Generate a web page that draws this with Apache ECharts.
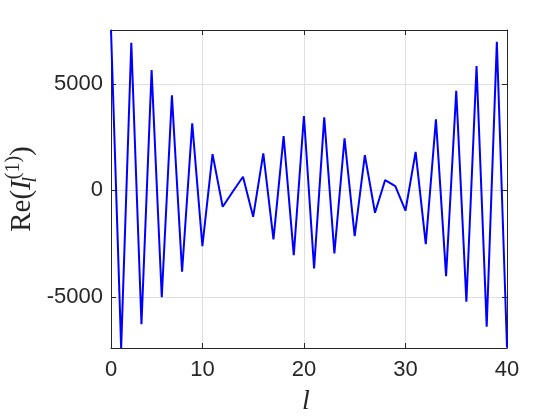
<!DOCTYPE html>
<html>
<head>
<meta charset="utf-8">
<script src="https://cdn.jsdelivr.net/npm/echarts@6/dist/echarts.min.js"></script>
<style>html,body{margin:0;padding:0;background:#fff;}#c{width:560px;height:420px;}</style>
</head>
<body>
<div id="c"></div>
<script>
// l index values (1..40 on the drawn axis)
const lValues = [1,2,3,4,5,6,7,8,9,10,11,12,13,14,15,16,17,18,19,20,21,22,23,24,25,26,27,28,29,30,31,32,33,34,35,36,37,38,39,40];
// Re(I_l^(1)) values
const reValues = [7530,-7400,6930,-6280,5650,-5020,4460,-3820,3145,-2615,1705,-770,-50,640,-1240,1735,-2300,2550,-3040,3490,-3660,3425,-2960,2440,-2145,1655,-1050,485,200,-955,1810,-2520,3335,-4025,4675,-5230,5835,-6405,6975,-7380];
const xTickValues = [1,10,20,30,40];
const xTickLabels = ['0','10','20','30','40'];
const yTickValues = [-5000,0,5000];
const yMin = -7400, yMax = 7530;

const chart = echarts.init(document.getElementById('c'), null, {renderer:'canvas'});
const dark = '#262626';
const gridCol = '#dfdfdf';
const tickFont = {fontFamily:'Liberation Sans, Arial, sans-serif', fontSize:22, color:dark};
const seriesData = lValues.map((l,i)=>[l, reValues[i]]);

function xAx(pos, main){
  return {
    type:'value', position:pos, min:1, max:40,
    axisLine:{show:true, onZero:false, lineStyle:{color:dark, width:1}},
    axisTick:{show:true, inside:true, length:5, customValues:xTickValues, lineStyle:{color:dark}},
    axisLabel: main ? Object.assign({show:true, margin:11, customValues:xTickValues,
      formatter:(v)=>{const k=xTickValues.indexOf(v); return k>=0?xTickLabels[k]:'';}}, tickFont) : {show:false},
    splitLine:{show:main, lineStyle:{color:gridCol, width:1}},
    name: main ? 'l' : '',
    nameLocation:'middle', nameGap:40, nameMoveOverlap:false,
    nameTextStyle:{fontFamily:'Liberation Serif, serif', fontStyle:'italic', fontSize:28, color:dark, padding:[0,6,0,0]}
  };
}
function yAx(pos, main){
  return {
    type:'value', position:pos, min:yMin, max:yMax,
    axisLine:{show:true, onZero:false, lineStyle:{color:dark, width:1}},
    axisTick:{show:true, inside:true, length:5, customValues:yTickValues, lineStyle:{color:dark}},
    axisLabel: main ? Object.assign({show:true, margin:8, customValues:yTickValues,
      formatter:(v)=>String(v)}, tickFont) : {show:false},
    splitLine:{show:main, lineStyle:{color:gridCol, width:1}},
    name: main ? '{r|Re(}{i|I}{sub|l}{sup|(1)}{r|)}' : '',
    nameLocation:'middle', nameGap:70, nameMoveOverlap:false,
    nameTextStyle:{
      color:dark,
      rich:{
        r:{fontFamily:'Liberation Serif, serif', fontSize:29, color:dark, lineHeight:37, verticalAlign:'middle'},
        i:{fontFamily:'Liberation Serif, serif', fontStyle:'italic', fontSize:29, color:dark, lineHeight:37, verticalAlign:'middle'},
        sub:{fontFamily:'Liberation Serif, serif', fontStyle:'italic', fontSize:20, color:dark, verticalAlign:'bottom', width:1},
        sup:{fontFamily:'Liberation Serif, serif', fontSize:20, color:dark, verticalAlign:'top'}
      }
    }
  };
}

chart.setOption({
  animation:false,
  backgroundColor:'#ffffff',
  grid:{left:111, right:53, top:30, bottom:72, containLabel:false, outerBoundsMode:'none'},
  xAxis:[xAx('bottom', true), xAx('top', false)],
  yAxis:[yAx('left', true), yAx('right', false)],
  series:[{
    type:'line', xAxisIndex:0, yAxisIndex:0,
    data:seriesData, showSymbol:false, symbol:'none',
    lineStyle:{color:'#0000ff', width:2}, itemStyle:{color:'#0000ff'}
  }]
});
</script>
</body>
</html>
